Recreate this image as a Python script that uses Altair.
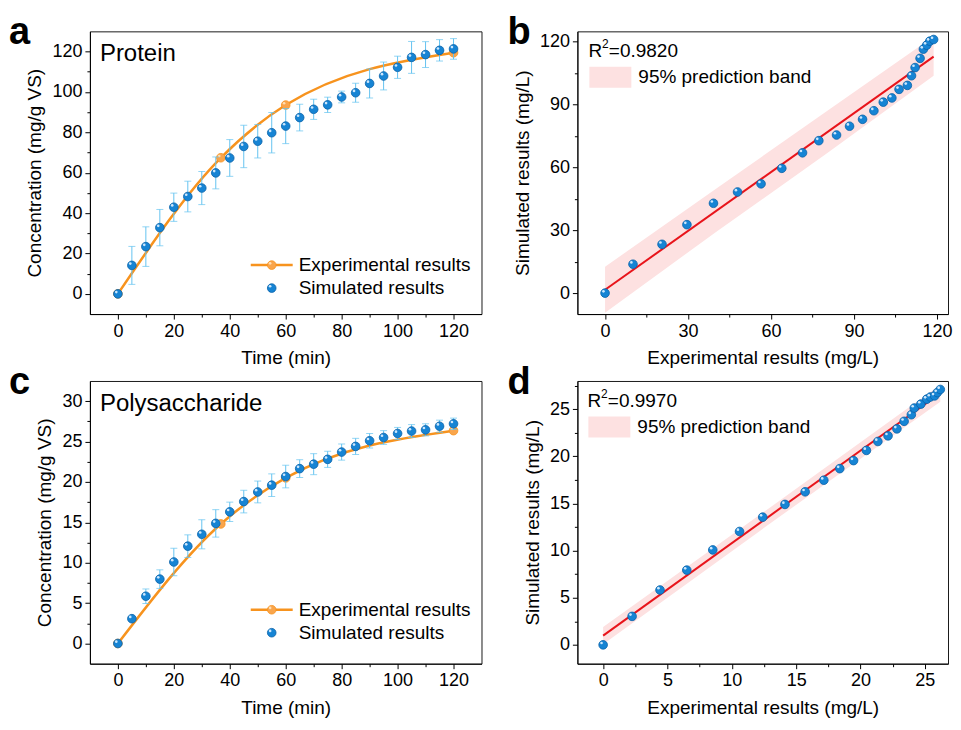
import altair as alt
import pandas as pd

# ---------------- data ----------------
time_min = [0, 5, 10, 15, 20, 25, 30, 35, 40, 45, 50, 55, 60, 65, 70, 75, 80, 85, 90, 95, 100, 105, 110, 115, 120]

protein_sim = [0, 14.1, 23.4, 32.8, 42.9, 48.2, 52.4, 59.9, 67.3, 73.0, 75.6, 79.8, 83.1,
               87.3, 91.4, 93.6, 97.5, 99.6, 104.2, 107.9, 112.2, 117.1, 118.5, 120.6, 121.3]
protein_err = [0, 9.4, 9.8, 9.0, 7.0, 7.6, 8.2, 7.9, 9.1, 10.5, 8.3, 10.0, 8.7,
               6.6, 5.0, 3.8, 2.9, 4.7, 7.2, 6.9, 5.5, 7.9, 6.4, 5.3, 5.1]
protein_exp_t = [0, 36.8, 60, 120]
protein_exp = [0, 67.4, 93.5, 119.4]

poly_sim = [0, 3.07, 5.85, 7.97, 10.09, 12.05, 13.52, 14.87, 16.3, 17.57, 18.76, 19.6, 20.67,
            21.65, 22.2, 22.8, 23.7, 24.4, 25.1, 25.5, 26.0, 26.3, 26.45, 26.9, 27.2]
poly_err = [0, 0.3, 0.9, 1.15, 1.7, 1.4, 1.8, 1.7, 1.2, 1.4, 1.35, 1.4, 1.4,
            1.1, 1.3, 1.0, 1.0, 1.0, 0.9, 0.85, 0.75, 0.8, 0.75, 0.75, 0.7]
poly_exp_t = [0, 36.8, 60, 120]
poly_exp = [0, 14.8, 20.5, 26.35]

# panel b: experimental vs simulated (protein)
b_exp = [0, 10.1, 20.6, 29.6, 39.2, 47.9, 56.4, 63.9, 71.4, 77.3, 83.7, 88.4, 93.1,
         97.2, 100.6, 103.7, 106.3, 109.3, 110.8, 112.1, 113.9, 115.1, 116.3, 117.4, 118.8]
b_sim = [0, 13.8, 23.3, 32.7, 42.9, 48.3, 52.2, 59.6, 67.0, 72.8, 75.5, 79.7, 83.0,
         87.1, 91.2, 93.2, 97.3, 99.2, 103.8, 107.7, 112.1, 116.5, 118.4, 120.3, 121.1]
b_fit_x = [0, 118.8]
b_fit_y = [1.6, 112.9]
b_band_x = [0, 40, 80, 118.8]
b_band_lo = [-9.4, 29.1, 66.5, 103.8]
b_band_hi = [12.6, 49.7, 86.7, 122.6]

# panel d: experimental vs simulated (polysaccharide)
d_exp = [0, 2.25, 4.42, 6.5, 8.52, 10.6, 12.4, 14.13, 15.7, 17.15, 18.39, 19.46, 20.46,
         21.35, 22.14, 22.83, 23.39, 23.95, 24.18, 24.69, 25.15, 25.43, 25.76, 25.97, 26.2]
d_sim = [0, 3.02, 5.82, 7.93, 10.07, 12.03, 13.55, 14.9, 16.24, 17.47, 18.7, 19.55, 20.63,
         21.58, 22.18, 22.92, 23.72, 24.42, 25.13, 25.55, 26.07, 26.3, 26.42, 26.77, 27.1]
d_fit_x = [0, 26.2]
d_fit_y = [0.98, 26.7]
d_band_x = [0, 13, 26.2]
d_band_lo = [0.05, 12.9, 25.8]
d_band_hi = [1.9, 14.6, 27.6]

# ---------------- style ----------------
FONT = "Liberation Sans"
BLUE = "#1684d4"
BLUE_EDGE = "#0a62a8"
BLUE_HL = "#d6ecff"
ERR = "#64c3f0"
ORANGE = "#f7931e"
ORANGE_PT = "#f9a54c"
ORANGE_HL = "#ffe0b8"
RED = "#e8141b"
BAND = "#fde1e1"
ONE = pd.DataFrame({"k": [0]})

H = 283       # plot height of every panel
WA = 392      # width of left panels
WB = 371      # width of right panels


def mk_axis(title, values, mod):
    test = f"abs(datum.value % {mod}) < 1e-6"
    return alt.Axis(title=title, values=values,
                    labelExpr=f"{test} ? datum.label : ''",
                    tickSize={"condition": {"test": test, "value": 5}, "value": 3},
                    labelOverlap=False, labelFlush=False, grid=False)


def ball(df, X, Y, fill, edge, hl, size=75):
    base = alt.Chart(df).mark_circle(size=size, color=fill, opacity=1, stroke=edge,
                                     strokeWidth=0.8).encode(X, Y)
    shine = alt.Chart(df).mark_circle(size=7, color=hl, opacity=0.95,
                                      xOffset=-1.6, yOffset=-1.8).encode(X, Y)
    return [base, shine]


def vball(x, y, fill, edge, hl, size=75):
    base = alt.Chart(ONE).mark_circle(size=size, color=fill, opacity=1, stroke=edge,
                                      strokeWidth=0.8).encode(x=alt.value(x), y=alt.value(y))
    shine = alt.Chart(ONE).mark_circle(size=7, color=hl, opacity=0.95).encode(
        x=alt.value(x - 1.6), y=alt.value(y - 1.8))
    return [base, shine]


def txt(s, x, y, size=19, weight="normal", baseline="middle"):
    return alt.Chart(ONE).mark_text(text=s, fontSize=size, fontWeight=weight, align="left",
                                    baseline=baseline, font=FONT, color="black").encode(
        x=alt.value(x), y=alt.value(y))


def letter_layers(letter, x):
    # invisible anchor keeps the top of the layout 22px above the plot
    anchor = alt.Chart(ONE).mark_point(opacity=0, size=1, filled=True).encode(
        x=alt.value(x + 5), y=alt.value(-21.5))
    return [anchor, txt(letter, x, 13, size=38, weight="bold", baseline="alphabetic")]


def ts_panel(letter, name, sim, err, et, ev, ydom, yvals, ymod, leg_y, w, h):
    xs = alt.Scale(domain=[-10, 130], nice=False, zero=False)
    ys = alt.Scale(domain=ydom, nice=False, zero=False)
    xax = mk_axis("Time (min)", list(range(0, 121, 10)), 20)
    yax = mk_axis("Concentration (mg/g VS)", yvals, ymod)
    sim_df = pd.DataFrame({"x": time_min, "y": sim,
                           "lo": [s - e for s, e in zip(sim, err)],
                           "hi": [s + e for s, e in zip(sim, err)],
                           "e": err})
    bars_df = sim_df[sim_df["e"] > 0]
    exp_df = pd.DataFrame({"x": et, "y": ev})
    X = alt.X("x:Q", scale=xs, axis=xax)
    Y = alt.Y("y:Q", scale=ys, axis=yax)
    layers = []
    layers.append(alt.Chart(exp_df).mark_line(color=ORANGE, strokeWidth=2.5,
                                              interpolate="monotone").encode(X, Y))
    layers += ball(exp_df, X, Y, ORANGE_PT, ORANGE, ORANGE_HL)
    layers.append(alt.Chart(bars_df).mark_rule(color=ERR, strokeWidth=1).encode(
        X, alt.Y("lo:Q", scale=ys, axis=yax), alt.Y2("hi:Q")))
    for f in ["lo", "hi"]:
        layers.append(alt.Chart(bars_df).mark_tick(color=ERR, orient="horizontal", size=7,
                                                   thickness=1).encode(
            X, alt.Y(f"{f}:Q", scale=ys, axis=yax)))
    layers += ball(sim_df, X, Y, BLUE, BLUE_EDGE, BLUE_HL)
    # panel name
    layers.append(txt(name, 10, 30, size=24, baseline="alphabetic"))
    # legend
    layers.append(alt.Chart(ONE).mark_rule(color=ORANGE, strokeWidth=2.5).encode(
        x=alt.value(161), x2=alt.value(203), y=alt.value(leg_y)))
    layers += vball(182, leg_y, ORANGE_PT, ORANGE, ORANGE_HL)
    layers.append(txt("Experimental results", 209, leg_y))
    layers += vball(182, leg_y + 23, BLUE, BLUE_EDGE, BLUE_HL)
    layers.append(txt("Simulated results", 209, leg_y + 23))
    # panel letter
    layers += letter_layers(letter, -81)
    return alt.layer(*layers).properties(width=w, height=h)


def sc_panel(letter, ex, sim, fx, fy, bx, blo, bhi, xdom, ydom, vals, mod, r2, ldx, w, h):
    xs = alt.Scale(domain=xdom, nice=False, zero=False)
    ys = alt.Scale(domain=ydom, nice=False, zero=False)
    xax = mk_axis("Experimental results (mg/L)", vals[0], mod)
    yax = mk_axis("Simulated results (mg/L)", vals[1], mod)
    X = alt.X("x:Q", scale=xs, axis=xax)
    Y = alt.Y("y:Q", scale=ys, axis=yax)
    band_df = pd.DataFrame({"x": bx, "y": blo, "y2": bhi})
    fit_df = pd.DataFrame({"x": fx, "y": fy})
    pts_df = pd.DataFrame({"x": ex, "y": sim})
    layers = []
    layers.append(alt.Chart(band_df).mark_area(color=BAND, opacity=1).encode(X, Y, alt.Y2("y2:Q")))
    layers.append(alt.Chart(fit_df).mark_line(color=RED, strokeWidth=2).encode(X, Y))
    layers += ball(pts_df, X, Y, BLUE, BLUE_EDGE, BLUE_HL)
    # R^2 label with a real superscript
    layers.append(txt("R", ldx, 20))
    layers.append(txt("2", ldx + 13.7, 13, size=12))
    layers.append(txt(r2, ldx + 20.5, 20))
    layers.append(alt.Chart(ONE).mark_rect(color=BAND, opacity=1).encode(
        x=alt.value(ldx + 1), x2=alt.value(ldx + 43), y=alt.value(35.5), y2=alt.value(56.5)))
    layers.append(txt("95% prediction band", ldx + 50, 46))
    layers += letter_layers(letter, -70)
    return alt.layer(*layers).properties(width=w, height=h)


pa = ts_panel("a", "Protein", protein_sim, protein_err, protein_exp_t, protein_exp,
              [-10, 130], list(range(0, 121, 10)), 20, H - 49, WA, H)
pc = ts_panel("c", "Polysaccharide", poly_sim, poly_err, poly_exp_t, poly_exp,
              [-2.5, 32.5], [i * 2.5 for i in range(0, 13)], 5, H - 54, WA, H)
pb = sc_panel("b", b_exp, b_sim, b_fit_x, b_fit_y, b_band_x, b_band_lo, b_band_hi,
              [-10, 124], [-10, 125],
              (list(range(0, 121, 15)), list(range(0, 121, 15))), 30,
              "=0.9820", 11, WB, H)
pd_ = sc_panel("d", d_exp, d_sim, d_fit_x, d_fit_y, d_band_x, d_band_lo, d_band_hi,
               [-2, 26.8], [-2, 28],
               ([i * 2.5 for i in range(0, 11)], [i * 2.5 for i in range(0, 12)]), 5,
               "=0.9970", 10, WB, H)

chart = alt.concat(pa, pb, pc, pd_, columns=2, spacing={"row": 67, "column": 96},
                   bounds="flush").properties(
    padding={"top": 0, "left": 0, "right": 0, "bottom": 0}
).configure(font=FONT).configure_view(
    stroke="#1a1a1a", strokeWidth=1
).configure_axis(
    domainColor="black", tickColor="black", labelColor="black", titleColor="black",
    labelFontSize=18, titleFontSize=19, titleFontWeight="normal",
    labelFont=FONT, titleFont=FONT, labelPadding=3, domainWidth=1, tickWidth=1
).configure_axisY(titlePadding=7).configure_axisX(titlePadding=8.5)

chart.save("out.html", embed_options={"renderer": "svg", "actions": False})
